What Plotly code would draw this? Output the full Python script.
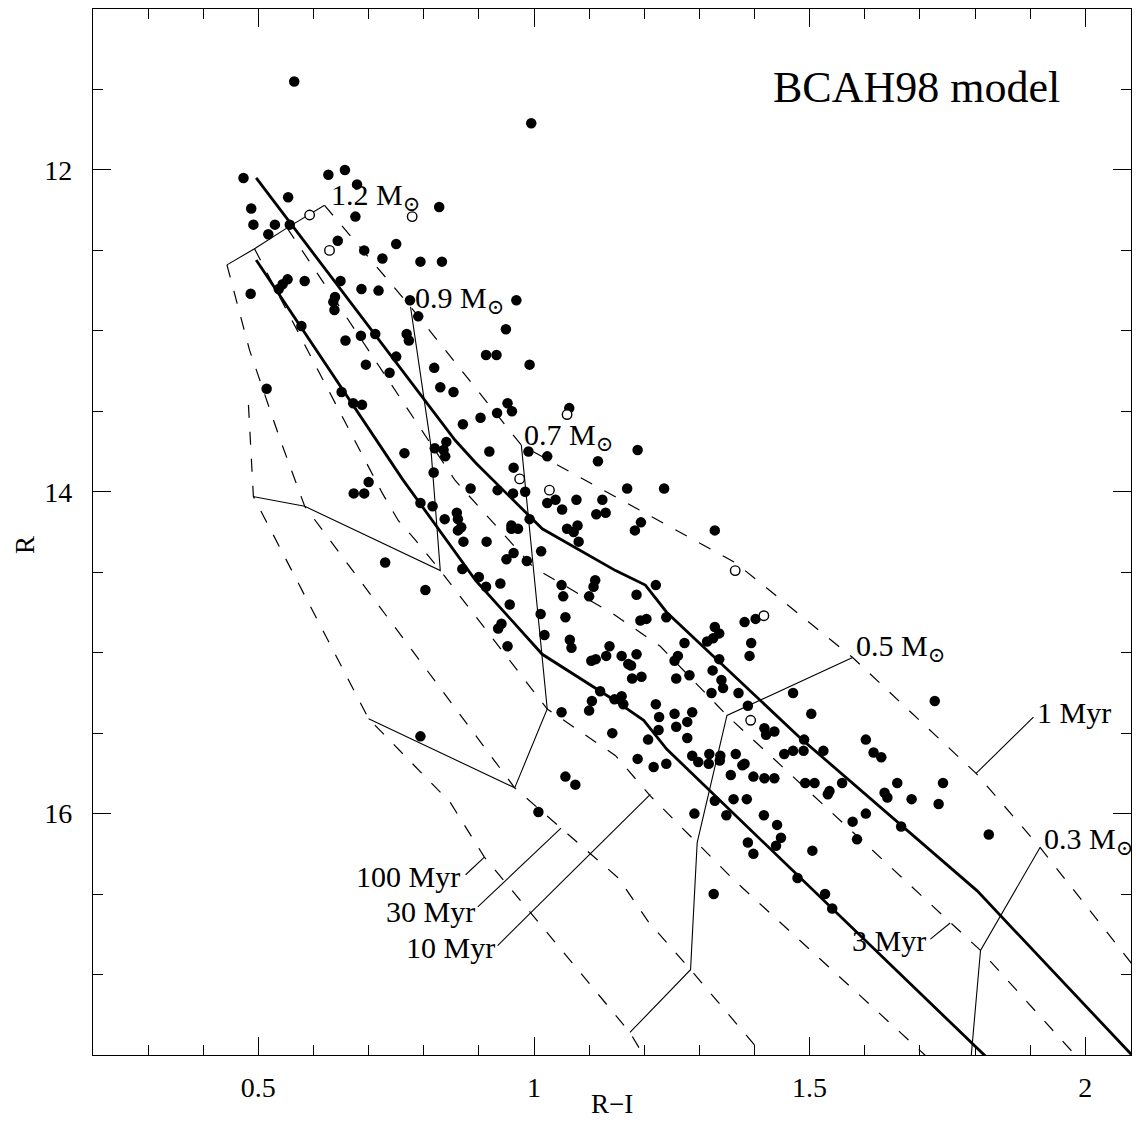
import plotly.graph_objects as go

# ---------------- data (R-I colour, R magnitude) ----------------
filled_ri = [
    0.565, 0.995, 0.473, 0.627, 0.657, 0.679, 0.554, 0.487, 0.491, 0.530, 0.557, 0.518, 0.676, 0.828,
    0.644, 0.750, 0.692, 0.725, 0.794, 0.833, 0.553, 0.544, 0.537, 0.584, 0.486, 0.649, 0.687, 0.718,
    0.639, 0.636, 0.638, 0.775, 0.968, 0.790, 0.949, 0.578, 0.658, 0.686, 0.712, 0.769, 0.773, 0.750,
    0.913, 0.932, 0.992, 0.695, 0.738, 0.819, 0.830, 0.854, 0.515, 0.651, 0.672, 0.688, 0.952, 0.933,
    0.960, 1.064, 0.903,
    0.871, 0.841, 0.820, 0.836, 0.839, 0.919, 0.765, 0.990, 0.963, 0.818, 0.700, 0.885, 1.024,
    0.673, 0.692, 0.934, 0.962, 0.984, 1.024, 1.039, 0.794, 0.816, 0.838, 0.860, 0.862, 0.868, 0.862,
    0.872, 0.914, 0.959, 0.959, 0.971, 0.992, 1.013, 0.963, 0.950, 0.987, 0.730, 0.870, 0.900, 0.913,
    0.939, 0.803, 0.956, 1.012, 0.941, 0.935, 0.952, 1.019, 0.794, 1.075, 1.008,
    1.188, 1.116, 1.169, 1.236, 1.077, 1.124, 1.051, 1.113, 1.130, 1.060, 1.072, 1.079, 1.081, 1.194,
    1.183, 1.328, 1.221, 1.186, 1.111, 1.108, 1.100, 1.050, 1.053, 1.057, 1.193, 1.204, 1.240, 1.382,
    1.402, 1.328, 1.336, 1.325, 1.314, 1.394, 1.391, 1.273, 1.065, 1.068, 1.137, 1.131, 1.112, 1.104,
    1.159, 1.186, 1.171, 1.176, 1.261, 1.255, 1.336, 1.178, 1.195, 1.258, 1.282, 1.324, 1.340, 1.343,
    1.322, 1.371, 1.470, 1.120, 1.105, 1.100, 1.146, 1.159, 1.162, 1.050, 1.221, 1.227, 1.255, 1.287,
    1.278, 1.388, 1.503, 1.727, 1.226, 1.258, 1.142, 1.207, 1.278, 1.418, 1.421, 1.436, 1.490, 1.602,
    1.470, 1.489, 1.525, 1.454, 1.616, 1.630, 1.188, 1.287, 1.298, 1.318, 1.317, 1.338, 1.337, 1.366,
    1.378, 1.382, 1.217, 1.240, 1.057,
    1.357, 1.398, 1.418, 1.436, 1.492, 1.509, 1.559, 1.536, 1.533, 1.636, 1.641, 1.659, 1.685, 1.742,
    1.734, 1.328, 1.362, 1.386, 1.291, 1.349, 1.417, 1.602, 1.578, 1.666, 1.441, 1.448, 1.439, 1.388,
    1.398, 1.586, 1.505, 1.825, 1.478, 1.528, 1.541, 1.326,
]
filled_r = [
    11.45, 11.71, 12.05, 12.03, 12.00, 12.09, 12.17, 12.24, 12.34, 12.34, 12.34, 12.40, 12.29, 12.23,
    12.44, 12.46, 12.50, 12.55, 12.57, 12.57, 12.68, 12.71, 12.74, 12.69, 12.77, 12.69, 12.74, 12.75,
    12.79, 12.82, 12.87, 12.81, 12.81, 12.91, 12.99, 12.97, 13.06, 13.03, 13.02, 13.02, 13.06, 13.16,
    13.15, 13.15, 13.21, 13.21, 13.26, 13.23, 13.35, 13.38, 13.36, 13.38, 13.45, 13.46, 13.45, 13.51,
    13.50, 13.48, 13.54,
    13.58, 13.69, 13.73, 13.74, 13.78, 13.75, 13.76, 13.75, 13.85, 13.88, 13.94, 13.98, 13.78,
    14.01, 14.01, 13.99, 14.01, 14.00, 14.07, 14.05, 14.07, 14.09, 14.17, 14.13, 14.17, 14.22, 14.24,
    14.31, 14.31, 14.21, 14.23, 14.23, 14.17, 14.37, 14.38, 14.42, 14.43, 14.44, 14.48, 14.53, 14.59,
    14.57, 14.61, 14.70, 14.76, 14.82, 14.85, 14.96, 14.89, 15.52, 15.82, 15.99,
    13.74, 13.81, 13.98, 13.98, 14.05, 14.05, 14.11, 14.14, 14.13, 14.23, 14.25, 14.21, 14.31, 14.19,
    14.24, 14.24, 14.58, 14.64, 14.55, 14.59, 14.65, 14.58, 14.65, 14.78, 14.80, 14.79, 14.78, 14.81,
    14.79, 14.84, 14.88, 14.91, 14.93, 14.94, 15.02, 14.94, 14.92, 14.97, 14.96, 15.02, 15.04, 15.05,
    15.02, 15.01, 15.07, 15.08, 15.02, 15.05, 15.04, 15.16, 15.15, 15.16, 15.14, 15.11, 15.17, 15.22,
    15.25, 15.25, 15.25, 15.24, 15.30, 15.36, 15.29, 15.27, 15.32, 15.37, 15.32, 15.40, 15.38, 15.37,
    15.43, 15.33, 15.38, 15.30, 15.48, 15.46, 15.50, 15.54, 15.53, 15.47, 15.51, 15.49, 15.54, 15.54,
    15.61, 15.61, 15.61, 15.63, 15.62, 15.65, 15.66, 15.64, 15.68, 15.63, 15.69, 15.64, 15.67, 15.63,
    15.70, 15.69, 15.71, 15.69, 15.77,
    15.76, 15.77, 15.78, 15.78, 15.81, 15.81, 15.81, 15.86, 15.88, 15.87, 15.90, 15.81, 15.91, 15.81,
    15.94, 15.92, 15.91, 15.91, 16.00, 16.01, 16.01, 16.00, 16.05, 16.08, 16.07, 16.15, 16.20, 16.18,
    16.25, 16.16, 16.23, 16.13, 16.40, 16.50, 16.59, 16.50,
]

open_ri = [0.593, 0.629, 0.779, 1.060, 0.974, 1.028, 1.365, 1.417, 1.393]
open_r = [12.28, 12.50, 12.29, 13.52, 13.92, 13.99, 14.49, 14.77, 15.42]

# isochrones (dashed = 1, 3, 10, 30, 100 Myr; thick solid = two intermediate ages)
iso1_ri = [0.620, 0.776, 0.977, 1.365, 1.578, 1.802, 1.918, 2.100]
iso1_r = [12.22, 12.85, 13.71, 14.44, 15.03, 15.75, 16.21, 17.00]
thickA_ri = [0.496, 0.857, 0.894, 1.015, 1.148, 1.202, 1.241, 1.483, 1.804, 2.090]
thickA_r = [12.05, 13.68, 13.82, 14.23, 14.49, 14.58, 14.75, 15.53, 16.48, 17.52]
iso3_ri = [0.552, 0.857, 0.999, 1.144, 1.229, 1.350, 1.810, 1.995]
iso3_r = [12.36, 13.93, 14.47, 14.76, 14.96, 15.39, 16.85, 17.55]
thickB_ri = [0.496, 0.761, 0.894, 1.015, 1.148, 1.199, 1.241, 1.832]
thickB_r = [12.56, 13.92, 14.55, 15.01, 15.30, 15.42, 15.60, 17.55]
iso10_ri = [0.493, 0.725, 0.754, 0.785, 0.830, 1.024, 1.148, 1.211, 1.362, 1.725]
iso10_r = [12.49, 14.01, 14.18, 14.30, 14.49, 15.35, 15.64, 15.89, 16.41, 17.55]
iso30_ri = [0.443, 0.484, 0.540, 0.584, 0.965, 1.049, 1.153, 1.207, 1.284, 1.428]
iso30_r = [12.59, 13.12, 13.68, 14.09, 15.84, 16.09, 16.40, 16.67, 16.97, 17.55]
iso100_ri = [0.482, 0.491, 0.700, 0.848, 0.910, 1.174, 1.207]
iso100_r = [13.46, 14.03, 15.41, 15.93, 16.27, 17.36, 17.55]

# mass tracks (thin solid)
m12_ri = [0.620, 0.552, 0.493, 0.443]
m12_r = [12.22, 12.36, 12.49, 12.59]
m09_ri = [0.776, 0.812, 0.830, 0.584, 0.491]
m09_r = [12.85, 13.69, 14.49, 14.09, 14.03]
m07_ri = [0.977, 0.999, 1.024, 0.965, 0.700]
m07_r = [13.71, 14.47, 15.35, 15.84, 15.41]
m05_ri = [1.578, 1.350, 1.296, 1.284, 1.174]
m05_r = [15.03, 15.39, 16.18, 16.97, 17.36]
m03_ri = [1.918, 1.810, 1.792]
m03_r = [16.21, 16.85, 17.55]

# label leader lines
lead_1myr_ri = [1.906, 1.802]
lead_1myr_r = [15.40, 15.75]
lead_3myr_ri = [1.719, 1.755]
lead_3myr_r = [16.78, 16.68]
lead_100myr_ri = [0.876, 0.910]
lead_100myr_r = [16.38, 16.27]
lead_30myr_ri = [0.898, 1.049]
lead_30myr_r = [16.58, 16.09]
lead_10myr_ri = [0.934, 1.211]
lead_10myr_r = [16.82, 15.88]

# text labels
label_text = ["1.2 M<sub>⊙</sub>", "0.9 M<sub>⊙</sub>", "0.7 M<sub>⊙</sub>", "0.5 M<sub>⊙</sub>",
              "0.3 M<sub>⊙</sub>", "1 Myr", "3 Myr", "100 Myr", "30 Myr", "10 Myr"]
label_x = [0.629, 0.781, 0.979, 1.580, 1.921, 1.909, 1.715, 0.870, 0.897, 0.933]
label_y = [12.17, 12.81, 13.66, 14.97, 16.17, 15.37, 16.79, 16.39, 16.61, 16.83]
label_anchor = ["left", "left", "left", "left", "left", "left", "right", "right", "right", "right"]

title_text = "BCAH98 model"

# ---------------- figure ----------------
FONT = "Liberation Serif, DejaVu Serif, serif"
DASH = "13px,14px"
fig = go.Figure()


def add_line(x, y, width, dash=None):
    fig.add_trace(go.Scatter(x=x, y=y, mode="lines",
                             line=dict(color="black", width=width, dash=dash),
                             hoverinfo="skip", showlegend=False))


for xs, ys in [(iso1_ri, iso1_r), (iso3_ri, iso3_r), (iso10_ri, iso10_r),
               (iso30_ri, iso30_r), (iso100_ri, iso100_r)]:
    add_line(xs, ys, 1.2, DASH)
for xs, ys in [(thickA_ri, thickA_r), (thickB_ri, thickB_r)]:
    add_line(xs, ys, 2.8)
for xs, ys in [(m12_ri, m12_r), (m09_ri, m09_r), (m07_ri, m07_r), (m05_ri, m05_r), (m03_ri, m03_r),
               (lead_1myr_ri, lead_1myr_r), (lead_3myr_ri, lead_3myr_r), (lead_100myr_ri, lead_100myr_r),
               (lead_30myr_ri, lead_30myr_r), (lead_10myr_ri, lead_10myr_r)]:
    add_line(xs, ys, 1.1)

fig.add_trace(go.Scatter(x=filled_ri, y=filled_r, mode="markers",
                         marker=dict(color="black", size=10.5, line=dict(width=0)),
                         showlegend=False, hoverinfo="skip"))
fig.add_trace(go.Scatter(x=open_ri, y=open_r, mode="markers",
                         marker=dict(color="white", size=9.5, line=dict(color="black", width=1.4)),
                         showlegend=False, hoverinfo="skip"))

for t, x, y, a in zip(label_text, label_x, label_y, label_anchor):
    fig.add_annotation(x=x, y=y, xref="x", yref="y", text=t, showarrow=False,
                       xanchor=a, yanchor="middle", font=dict(family=FONT, size=30, color="black"))

fig.add_annotation(x=1.958, y=11.49, xref="x", yref="y", text=title_text, showarrow=False,
                   xanchor="right", yanchor="middle", font=dict(family=FONT, size=44, color="black"))

# axis titles (figure area is 1124 x 1111, plot area 1038 x 1046 starting at l=85, t=1)
fig.add_annotation(x=0.5, y=-0.047, xref="paper", yref="paper", text="R−I", showarrow=False,
                   xanchor="center", yanchor="middle", font=dict(family=FONT, size=27, color="black"))
fig.add_annotation(x=-0.066, y=0.488, xref="paper", yref="paper", text="R", showarrow=False,
                   xanchor="center", yanchor="middle", textangle=-90,
                   font=dict(family=FONT, size=27, color="black"))

axis_common = dict(showline=True, linecolor="black", linewidth=1.3, mirror="allticks",
                   ticks="inside", tickcolor="black", tickwidth=1.2, showgrid=False, zeroline=False,
                   tickfont=dict(family=FONT, size=28, color="black"))

fig.update_xaxes(range=[0.2, 2.083], dtick=0.5, tick0=0, ticklen=18, ticklabelstandoff=7,
                 minor=dict(dtick=0.1, tick0=0, ticklen=10, tickwidth=1.2, tickcolor="black",
                            ticks="inside", showgrid=False),
                 **axis_common)
fig.update_yaxes(range=[17.5, 11.0], dtick=2, tick0=0, ticklen=18, ticklabelstandoff=14,
                 minor=dict(dtick=0.5, tick0=0, ticklen=10, tickwidth=1.2, tickcolor="black",
                            ticks="inside", showgrid=False),
                 **axis_common)

# the page adds an 8 px body margin, so the figure is sized to fit inside the window
fig.update_layout(width=1124, height=1111, margin=dict(l=85, r=1, t=1, b=64, autoexpand=False),
                  paper_bgcolor="white", plot_bgcolor="white", showlegend=False)

fig.write_html("out.html")
